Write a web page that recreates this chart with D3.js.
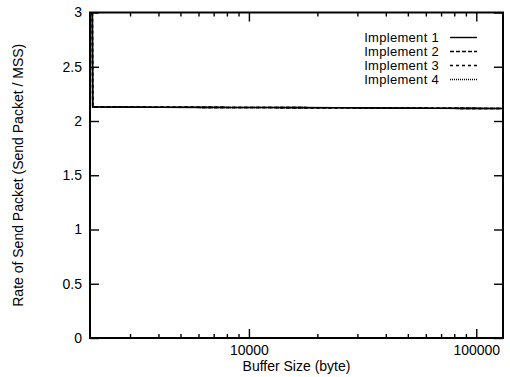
<!DOCTYPE html>
<html>
<head>
<meta charset="utf-8">
<script src="https://cdn.jsdelivr.net/npm/d3@7"></script>
<style>
  html, body { margin: 0; padding: 0; background: #fff; }
  svg { display: block; font-family: "Liberation Sans", Arial, Helvetica, sans-serif; }
  .tick text { fill: #000; }
</style>
</head>
<body>
<svg id="chart" width="510" height="377"></svg>
<script>
// Buffer sizes (bytes) at which the send rate was measured
const bufferSizes = [2048, 2056, 3000, 4096, 6144, 8192, 12288, 16384, 24576, 32768, 49152, 65536, 98304, 131072];

// Rate of send packet (send packet / MSS) for each implementation
const implement1 = [3.0, 2.13, 2.128, 2.127, 2.126, 2.125, 2.124, 2.123, 2.122, 2.121, 2.119, 2.118, 2.116, 2.115];
const implement2 = [3.0, 2.13, 2.128, 2.127, 2.126, 2.125, 2.124, 2.123, 2.122, 2.121, 2.119, 2.118, 2.116, 2.115];
const implement3 = [3.0, 2.13, 2.128, 2.127, 2.126, 2.125, 2.124, 2.123, 2.122, 2.121, 2.119, 2.118, 2.116, 2.115];
const implement4 = [3.0, 2.13, 2.128, 2.127, 2.126, 2.125, 2.124, 2.123, 2.122, 2.121, 2.119, 2.118, 2.116, 2.115];

const seriesNames = ["Implement 1", "Implement 2", "Implement 3", "Implement 4"];
const seriesValues = [implement1, implement2, implement3, implement4];
const seriesDash = [null, "4,2", "3,3", "1,1"];

// Axis ticks
const xMajorTicks = [10000, 100000];
const xMinorTicks = [3000, 4000, 5000, 6000, 7000, 8000, 9000,
                     20000, 30000, 40000, 50000, 60000, 70000, 80000, 90000];
const yTicks = [0, 0.5, 1, 1.5, 2, 2.5, 3];

const plotLeft = 90, plotRight = 503, plotTop = 12.5, plotBottom = 338;

const svg = d3.select("#chart");

const x = d3.scaleLog().domain([2000, 131072]).range([plotLeft, plotRight]);
const y = d3.scaleLinear().domain([0, 3]).range([plotBottom, plotTop]);

function styleAxis(g) {
  g.select(".domain").remove();
  g.selectAll(".tick line").attr("stroke", "#000").attr("stroke-width", 1.4);
  g.selectAll(".tick text").attr("font-size", 14);
}

// Bottom axis: labelled decades and minor ticks, pointing inward
svg.append("g").attr("transform", `translate(0,${plotBottom})`)
  .call(d3.axisBottom(x).tickValues(xMajorTicks).tickFormat(d3.format("d"))
    .tickSizeInner(-9).tickSizeOuter(0).tickPadding(7))
  .call(styleAxis);
svg.append("g").attr("transform", `translate(0,${plotBottom})`)
  .call(d3.axisBottom(x).tickValues(xMinorTicks).tickFormat("")
    .tickSizeInner(-4).tickSizeOuter(0))
  .call(styleAxis);

// Top axis mirrors the bottom ticks
svg.append("g").attr("transform", `translate(0,${plotTop})`)
  .call(d3.axisTop(x).tickValues(xMajorTicks).tickFormat("")
    .tickSizeInner(-9).tickSizeOuter(0))
  .call(styleAxis);
svg.append("g").attr("transform", `translate(0,${plotTop})`)
  .call(d3.axisTop(x).tickValues(xMinorTicks).tickFormat("")
    .tickSizeInner(-4).tickSizeOuter(0))
  .call(styleAxis);

// Left axis with labels, right axis mirrored
svg.append("g").attr("transform", `translate(${plotLeft},0)`)
  .call(d3.axisLeft(y).tickValues(yTicks).tickFormat(d3.format("~g"))
    .tickSizeInner(-9).tickSizeOuter(0).tickPadding(8))
  .call(styleAxis);
svg.append("g").attr("transform", `translate(${plotRight},0)`)
  .call(d3.axisRight(y).tickValues(yTicks).tickFormat("")
    .tickSizeInner(-9).tickSizeOuter(0))
  .call(styleAxis);

// Plot frame
svg.append("rect")
  .attr("x", plotLeft).attr("y", plotTop)
  .attr("width", plotRight - plotLeft).attr("height", plotBottom - plotTop)
  .attr("fill", "none").attr("stroke", "#000").attr("stroke-width", 2);

// Series lines
const line = d3.line()
  .x((d, i) => x(bufferSizes[i]))
  .y(d => y(d));

seriesValues.forEach((vals, k) => {
  svg.append("path")
    .datum(vals)
    .attr("fill", "none")
    .attr("stroke", "#000")
    .attr("stroke-width", 1.6)
    .attr("stroke-dasharray", seriesDash[k])
    .attr("d", line);
});

// Legend
const legend = svg.append("g");
seriesNames.forEach((name, k) => {
  const yy = 37.5 + k * 14;
  legend.append("text")
    .attr("x", 439).attr("y", yy).attr("dy", "0.35em")
    .attr("text-anchor", "end")
    .attr("font-size", 13)
    .attr("letter-spacing", 0.3)
    .text(name);
  legend.append("line")
    .attr("x1", 450).attr("x2", 477)
    .attr("y1", yy).attr("y2", yy)
    .attr("stroke", "#000")
    .attr("stroke-width", 1.4)
    .attr("stroke-dasharray", seriesDash[k]);
});

// Axis titles
svg.append("text")
  .attr("x", (plotLeft + plotRight) / 2).attr("y", 371)
  .attr("text-anchor", "middle")
  .attr("font-size", 14)
  .text("Buffer Size (byte)");

svg.append("text")
  .attr("transform", `translate(23,${(plotTop + plotBottom) / 2}) rotate(-90)`)
  .attr("text-anchor", "middle")
  .attr("font-size", 14)
  .text("Rate of Send Packet (Send Packet / MSS)");
</script>
</body>
</html>
